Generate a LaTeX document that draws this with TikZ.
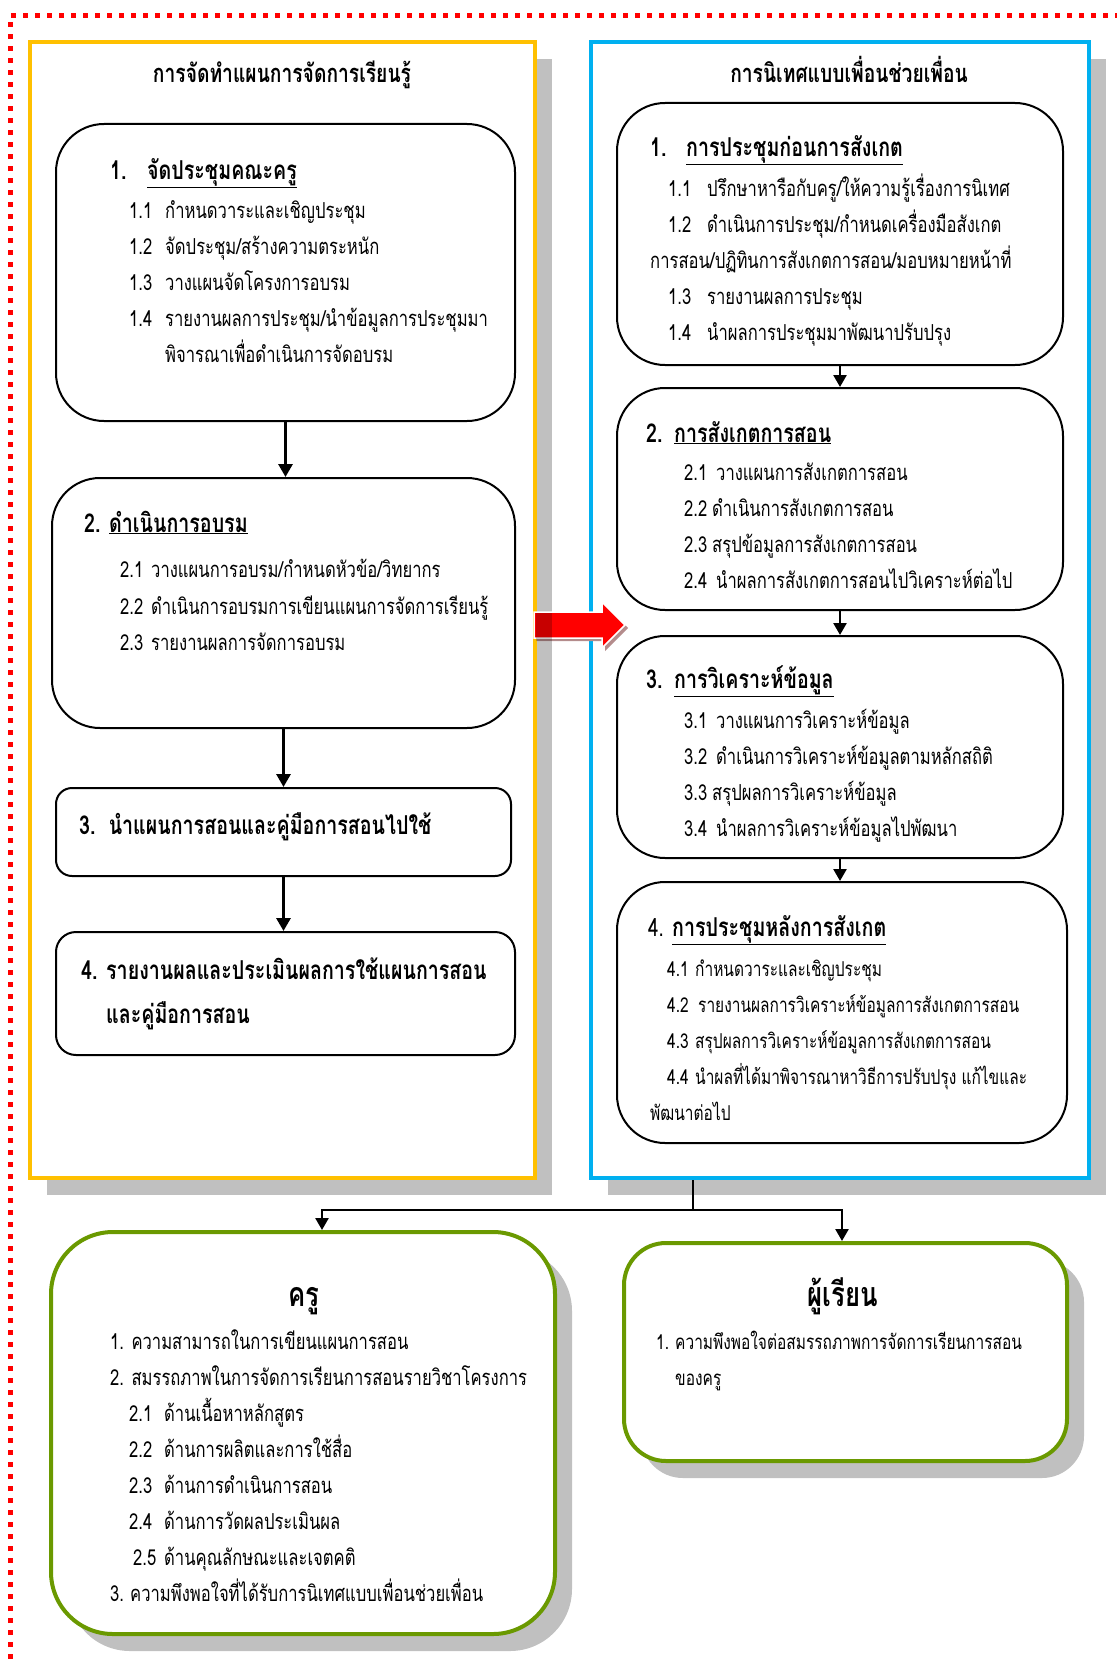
\documentclass[tikz,border=0pt]{standalone}
\usepackage{fontspec}
\newfontfamily\thai[Script=Thai,FakeStretch=0.755]{Loma}
\usetikzlibrary{arrows.meta,calc,shadows}
\definecolor{ybord}{RGB}{255,192,0}
\definecolor{bbord}{RGB}{0,176,240}
\definecolor{gbord}{RGB}{106,153,0}
\definecolor{shadowgray}{RGB}{192,192,192}
\definecolor{arrshadow}{RGB}{180,140,140}
\tikzset{
  pshadow/.style={drop shadow={shadow xshift=17pt,shadow yshift=-17pt,fill=shadowgray,opacity=1}},
  panel/.style={draw, line width=4pt, fill=white, inner sep=0pt, pshadow},
  stepbox/.style={draw=black, line width=2pt, fill=white, inner sep=0pt},
  gbox/.style={draw=gbord, line width=4pt, fill=white, inner sep=0pt, pshadow},
  txt/.style={anchor=base west, inner sep=0pt, yshift=-2pt, font=\thai\fontsize{22}{26}\selectfont},
  txtn/.style={anchor=base west, inner sep=0pt, yshift=-2pt, font=\thai\fontsize{20.5}{25}\selectfont},
  hd/.style={anchor=base west, inner sep=0pt, yshift=-2pt, font=\thai\bfseries\fontsize{26}{30}\selectfont},
  ttl/.style={anchor=base, inner sep=0pt, yshift=-1pt, font=\thai\bfseries\fontsize{25.5}{29}\selectfont},
  bigttl/.style={anchor=base, inner sep=0pt, font=\thai\bfseries\fontsize{34}{38}\selectfont},
  arr/.style={line width=3pt, -{Triangle[length=13pt,width=14pt]}},
  sarr/.style={line width=2.5pt, -{Triangle[length=12pt,width=13pt]}},
}
\begin{document}
\begin{tikzpicture}[x=1pt,y=-1pt]
\useasboundingbox (0,0) rectangle (1117,1659);
% dotted border
\draw[red, line width=5pt, dash pattern=on 5pt off 7pt] (10,1659) -- (10,16) -- (1117,16);
% panels
\node[panel, draw=ybord, minimum width=505pt, minimum height=1136pt] (LP) at (282.5,610) {};
\node[panel, draw=bbord, minimum width=498pt, minimum height=1136pt] (RP) at (840,610) {};
\node[ttl] (LT) at (282,82) {การจัดทำแผนการจัดการเรียนรู้};
\node[ttl] (RT) at (849,82) {การนิเทศแบบเพื่อนช่วยเพื่อน};
% left steps
\node[stepbox, rounded corners=48pt, minimum width=459pt, minimum height=297pt] (L1) at (285.5,272.5) {};
\node[stepbox, rounded corners=48pt, minimum width=463pt, minimum height=250pt] (L2) at (283.5,603) {};
\node[stepbox, rounded corners=16pt, minimum width=455pt, minimum height=88pt] (L3) at (283.5,832) {};
\node[stepbox, rounded corners=20pt, minimum width=459pt, minimum height=123pt] (L4) at (285.5,993.5) {};
\draw[arr] (L1.south) -- (L1.south |- L2.north);
\draw[arr] (L2.south) -- (L2.south |- L3.north);
\draw[arr] (L3.south) -- (L3.south |- L4.north);
% L1 text
\node[hd] (l1n) at (110,177) {1.};
\node[hd] (l1h) at (147,177) {\underline{จัดประชุมคณะครู}};
\node[txt] (l11n) at (129,216) {1.1};
\node[txt] (l11) at (165,216) {กำหนดวาระและเชิญประชุม};
\node[txt] (l12n) at (129,252) {1.2};
\node[txt] (l12) at (165,252) {จัดประชุม/สร้างความตระหนัก};
\node[txt] (l13n) at (129,288) {1.3};
\node[txt] (l13) at (165,288) {วางแผนจัดโครงการอบรม};
\node[txt] (l14n) at (129,324) {1.4};
\node[txt] (l14) at (165,324) {รายงานผลการประชุม/นำข้อมูลการประชุมมา};
\node[txt] (l14b) at (165,360) {พิจารณาเพื่อดำเนินการจัดอบรม};
% L2 text
\node[hd] (l2n) at (84,530) {2.};
\node[hd] (l2h) at (109,530) {\underline{ดำเนินการอบรม}};
\node[txt] (l21n) at (120,575) {2.1};
\node[txt] (l21) at (151,575) {วางแผนการอบรม/กำหนดหัวข้อ/วิทยากร};
\node[txt] (l22n) at (120,612) {2.2};
\node[txt] (l22) at (151,612) {ดำเนินการอบรมการเขียนแผนการจัดการเรียนรู้};
\node[txt] (l23n) at (120,648) {2.3};
\node[txt] (l23) at (151,648) {รายงานผลการจัดการอบรม};
% L3, L4 text
\node[hd] (l3) at (79,832) {3.\ \ นำแผนการสอนและคู่มือการสอนไปใช้};
\node[hd] (l4n) at (81,977) {4.};
\node[hd] (l4) at (106,977) {รายงานผลและประเมินผลการใช้แผนการสอน};
\node[hd] (l4b) at (106,1021) {และคู่มือการสอน};
% right steps
\node[stepbox, rounded corners=48pt, minimum width=446pt, minimum height=262pt] (R1) at (840,234) {};
\node[stepbox, rounded corners=48pt, minimum width=446pt, minimum height=222pt] (R2) at (840,499) {};
\node[stepbox, rounded corners=48pt, minimum width=446pt, minimum height=222pt] (R3) at (840,747) {};
\node[stepbox, rounded corners=48pt, minimum width=450pt, minimum height=261pt] (R4) at (842,1012.5) {};
\draw[sarr] (R1.south) -- (R1.south |- R2.north);
\draw[sarr] (R2.south) -- (R2.south |- R3.north);
\draw[sarr] (R3.south) -- (R3.south |- R4.north);
% R1 text
\node[hd] (r1n) at (650,154) {1.};
\node[hd] (r1h) at (686,154) {\underline{การประชุมก่อนการสังเกต}};
\node[txt] (r11n) at (668,194) {1.1};
\node[txt] (r11) at (707,194) {ปรึกษาหารือกับครู/ให้ความรู้เรื่องการนิเทศ};
\node[txt] (r12n) at (668,230) {1.2};
\node[txt] (r12) at (707,230) {ดำเนินการประชุม/กำหนดเครื่องมือสังเกต};
\node[txt] (r12b) at (650,266) {การสอน/ปฏิทินการสังเกตการสอน/มอบหมายหน้าที่};
\node[txt] (r13n) at (668,302) {1.3};
\node[txt] (r13) at (707,302) {รายงานผลการประชุม};
\node[txt] (r14n) at (668,338) {1.4};
\node[txt] (r14) at (707,338) {นำผลการประชุมมาพัฒนาปรับปรุง};
% R2 text
\node[hd] (r2n) at (646,440) {2.};
\node[hd] (r2h) at (674,440) {\underline{การสังเกตการสอน}};
\node[txt] (r21n) at (684,478) {2.1};
\node[txt] (r21) at (716,478) {วางแผนการสังเกตการสอน};
\node[txt] (r22n) at (684,514) {2.2};
\node[txt] (r22) at (712,514) {ดำเนินการสังเกตการสอน};
\node[txt] (r23n) at (684,550) {2.3};
\node[txt] (r23) at (712,550) {สรุปข้อมูลการสังเกตการสอน};
\node[txt] (r24n) at (684,586) {2.4};
\node[txt] (r24) at (716,586) {นำผลการสังเกตการสอนไปวิเคราะห์ต่อไป};
% R3 text
\node[hd] (r3n) at (646,686) {3.};
\node[hd] (r3h) at (674,686) {\underline{การวิเคราะห์ข้อมูล}};
\node[txt] (r31n) at (684,726) {3.1};
\node[txt] (r31) at (716,726) {วางแผนการวิเคราะห์ข้อมูล};
\node[txt] (r32n) at (684,762) {3.2};
\node[txt] (r32) at (716,762) {ดำเนินการวิเคราะห์ข้อมูลตามหลักสถิติ};
\node[txt] (r33n) at (684,798) {3.3};
\node[txt] (r33) at (712,798) {สรุปผลการวิเคราะห์ข้อมูล};
\node[txt] (r34n) at (684,834) {3.4};
\node[txt] (r34) at (716,834) {นำผลการวิเคราะห์ข้อมูลไปพัฒนา};
% R4 text
\node[txt, font=\thai\fontsize{25}{29}\selectfont] (r4n) at (648,934) {4.};
\node[hd] (r4h) at (672,934) {\underline{การประชุมหลังการสังเกต}};
\node[txtn] (r41n) at (667,974) {4.1};
\node[txtn] (r41) at (695,974) {กำหนดวาระและเชิญประชุม};
\node[txtn] (r42n) at (667,1010) {4.2};
\node[txtn] (r42) at (698,1010) {รายงานผลการวิเคราะห์ข้อมูลการสังเกตการสอน};
\node[txtn] (r43n) at (667,1046) {4.3};
\node[txtn] (r43) at (695,1046) {สรุปผลการวิเคราะห์ข้อมูลการสังเกตการสอน};
\node[txtn] (r44n) at (667,1082) {4.4};
\node[txtn] (r44) at (695,1082) {นำผลที่ได้มาพิจารณาหาวิธีการปรับปรุง แก้ไขและ};
\node[txtn] (r44b) at (650,1118) {พัฒนาต่อไป};
% red arrow
\fill[arrshadow] (537,615) -- (605,615) -- (605,605) -- (628,628) -- (605,651) -- (605,641) -- (537,641) -- cycle;
\filldraw[fill=red, draw=white, line width=1.5pt] (534,612) -- (602,612) -- (602,602) -- (625,625) -- (602,648) -- (602,638) -- (534,638) -- cycle;
\fill[black, opacity=0.22] (536,613) rectangle (552,641);
% bottom boxes
\node[gbox, rounded corners=62pt, minimum width=504pt, minimum height=402pt] (T) at (303,1433) {};
\node[gbox, rounded corners=42pt, minimum width=443pt, minimum height=218pt] (S) at (845.5,1352) {};
\coordinate (J) at (693,1210);
\draw[line width=2.5pt] (RP.south -| J) -- (J);
\draw[sarr] (J) -| ($(T.north)+(19,0)$);
\draw[sarr] (J) -| ($(S.north)+(-3.5,0)$);
% teacher text
\node[bigttl] (tt) at (304,1306) {ครู};
\node[txt] (t1) at (110,1347) {1. ความสามารถในการเขียนแผนการสอน};
\node[txt] (t2) at (110,1383) {2. สมรรถภาพในการจัดการเรียนการสอนรายวิชาโครงการ};
\node[txt] (t21n) at (129,1419) {2.1};
\node[txt] (t21) at (164,1419) {ด้านเนื้อหาหลักสูตร};
\node[txt] (t22n) at (129,1455) {2.2};
\node[txt] (t22) at (164,1455) {ด้านการผลิตและการใช้สื่อ};
\node[txt] (t23n) at (129,1491) {2.3};
\node[txt] (t23) at (164,1491) {ด้านการดำเนินการสอน};
\node[txt] (t24n) at (129,1527) {2.4};
\node[txt] (t24) at (164,1527) {ด้านการวัดผลประเมินผล};
\node[txt] (t25n) at (133,1563) {2.5};
\node[txt] (t25) at (164,1563) {ด้านคุณลักษณะและเจตคติ};
\node[txt] (t3n) at (110,1599) {3.};
\node[txt] (t3) at (130,1599) {ความพึงพอใจที่ได้รับการนิเทศแบบเพื่อนช่วยเพื่อน};
% student text
\node[bigttl] (st) at (843,1306) {ผู้เรียน};
\node[txtn] (s1n) at (656,1347) {1.};
\node[txtn] (s1) at (675,1347) {ความพึงพอใจต่อสมรรถภาพการจัดการเรียนการสอน};
\node[txtn] (s1b) at (675,1383) {ของครู};
\end{tikzpicture}
\end{document}
